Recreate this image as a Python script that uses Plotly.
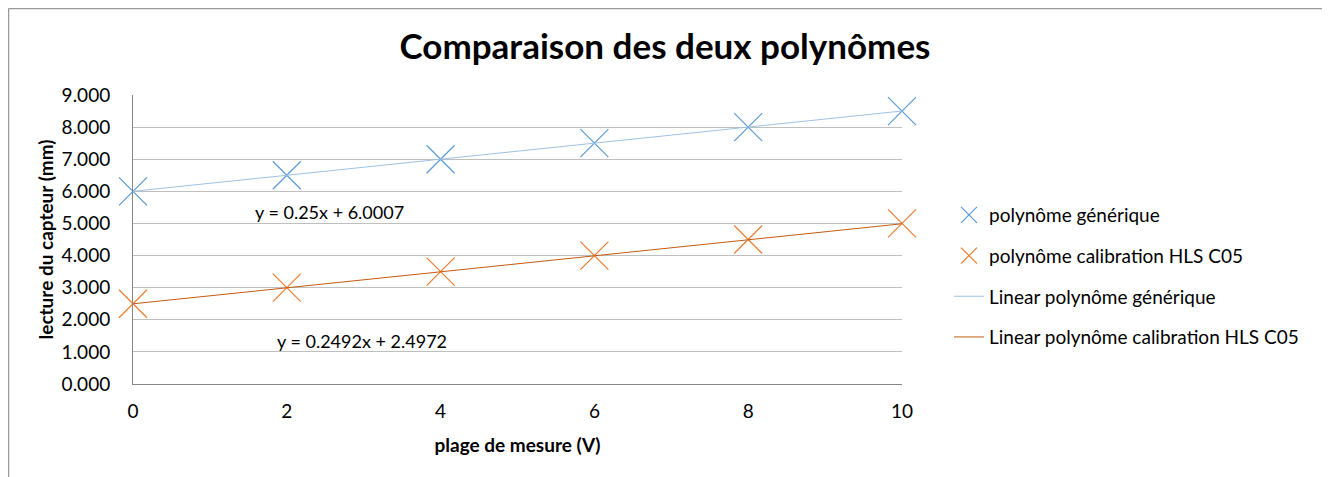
import plotly.graph_objects as go

x_vals = [0, 2, 4, 6, 8, 10]
generique = [6.0, 6.5, 7.0, 7.5, 8.0, 8.5]
calibration = [2.5, 3.0, 3.5, 4.0, 4.5, 5.0]
trend_generique = (0.25, 6.0007)
trend_calibration = (0.2492, 2.4972)
eq_generique = "y = 0.25x + 6.0007"
eq_calibration = "y = 0.2492x + 2.4972"
x_ticks = [0, 2, 4, 6, 8, 10]
y_ticks = [0, 1, 2, 3, 4, 5, 6, 7, 8, 9]

FONT = "Lato, Open Sans, sans-serif"
BLUE = "#5B9BD5"
ORANGE = "#ED7D31"
TBLUE = "#9DC3E6"
TORANGE = "#C55A11"

# page body adds an 8px offset; targets below are in figure pixels
OFF = 8
W, H = 1330, 477
L, R, T, B = 133 - OFF, 902 - OFF, 95 - OFF, 384 - OFF

fig = go.Figure()
fig.add_trace(go.Scatter(x=x_vals, y=generique, mode="markers", name="polynôme générique",
                         marker=dict(symbol="x-thin", size=28, line=dict(color=BLUE, width=1.2)),
                         legendgroup="a", cliponaxis=False))
fig.add_trace(go.Scatter(x=x_vals, y=calibration, mode="markers", name="polynôme calibration HLS C05",
                         marker=dict(symbol="x-thin", size=28, line=dict(color=ORANGE, width=1.2)),
                         legendgroup="b", cliponaxis=False))
xs = [x_vals[0], x_vals[-1]]
fig.add_trace(go.Scatter(x=xs, y=[trend_generique[0] * v + trend_generique[1] for v in xs],
                         mode="lines", name="Linear polynôme générique",
                         line=dict(color=TBLUE, width=1), legendgroup="c"))
fig.add_trace(go.Scatter(x=xs, y=[trend_calibration[0] * v + trend_calibration[1] for v in xs],
                         mode="lines", name="Linear polynôme calibration HLS C05",
                         line=dict(color=TORANGE, width=1), legendgroup="d"))

fig.add_annotation(x=2.56, y=5.36, text=eq_generique, showarrow=False,
                   font=dict(family=FONT, size=18, color="#000"))
fig.add_annotation(x=2.98, y=1.34, text=eq_calibration, showarrow=False,
                   font=dict(family=FONT, size=18, color="#000"))

pw = R - L
ph = B - T
def px(xs_):
    return (xs_ - OFF - L) / pw
def py(ys_):
    return (B - (ys_ - OFF)) / ph

for (x0, y0, x1, y1) in [(8.5, 8.5, 8.5, 490), (8.5, 8.5, 1324, 8.5), (1324, 8.5, 1324, 490)]:
    fig.add_shape(type="line", xref="paper", yref="paper",
                  x0=px(x0), y0=py(y0), x1=px(x1), y1=py(y1),
                  line=dict(color="#9A9A9A", width=1.5))

fig.update_layout(
    width=W, height=H,
    margin=dict(l=L, r=W - R, t=T, b=H - B, autoexpand=False),
    paper_bgcolor="white", plot_bgcolor="white",
    font=dict(family=FONT, size=18, color="#000"),
    title=dict(text="<b>Comparaison des deux polynômes</b>", x=(665 - OFF) / W, xanchor="center",
               y=1 - (47 - OFF) / H, yanchor="middle", font=dict(family=FONT, size=35, color="#000")),
    showlegend=True,
    legend=dict(x=px(949), y=py(196), xanchor="left", yanchor="top",
                font=dict(family=FONT, size=19, color="#000"),
                traceorder="grouped", tracegroupgap=13,
                bgcolor="rgba(0,0,0,0)"),
    xaxis=dict(range=[0, 10], tickvals=x_ticks, showgrid=False, zeroline=False,
               showline=True, linecolor="#868686", linewidth=1, ticks="",
               ticklabelstandoff=10, tickfont=dict(size=19),
               title=dict(text="<b>plage de mesure (V)</b>", font=dict(size=19), standoff=17)),
    yaxis=dict(range=[0, 9], tickvals=y_ticks, tickformat=".3f", showgrid=True,
               gridcolor="#BFBFBF", gridwidth=1, zeroline=False,
               showline=True, linecolor="#868686", linewidth=1, ticks="",
               ticklabelstandoff=18, tickfont=dict(size=19),
               title=dict(text="<b>lecture du capteur (mm)</b>", font=dict(size=19), standoff=2)),
)

fig.write_html("out.html")
